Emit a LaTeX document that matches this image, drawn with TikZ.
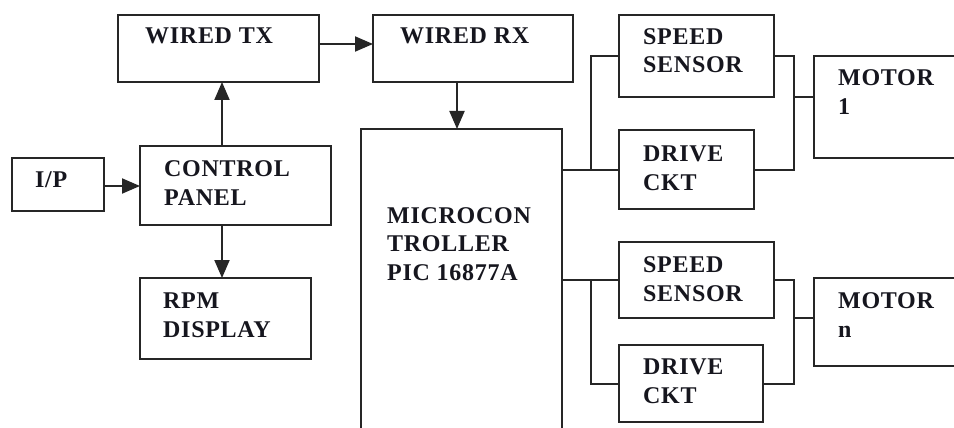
\documentclass[tikz,border=0pt]{standalone}
\usepackage{fontspec}
\setmainfont{Liberation Serif}[LetterSpace=3]
\usepackage{tikz}
\usetikzlibrary{arrows.meta,calc}
\definecolor{bdInk}{HTML}{16161E}
\definecolor{bdLine}{HTML}{262626}
\tikzset{
  bd diagram/.style={x=1pt, y=-1pt, line join=miter},
  bd box/.style={draw=bdLine, fill=white, line width=2pt, anchor=north west,
    inner sep=0pt, outer sep=0pt},
  bd arrow/.style={-{Triangle[length=18pt,width=15pt]}, draw=bdLine, line width=2pt},
  bd wire/.style={draw=bdLine, line width=2pt},
  bd label/.style={font=\bfseries\fontsize{24}{28.5}\selectfont, text=bdInk,
    align=left, anchor=base west, inner sep=0pt}
}

\begin{document}
\begin{tikzpicture}[bd diagram]
\useasboundingbox (0,0) rectangle (954,428);
% blocks
\node[bd box, minimum width=92, minimum height=53] (ip) at (12,158) {};
\node[bd box, minimum width=191, minimum height=79] (cp) at (140,146) {};
\node[bd box, minimum width=171, minimum height=81] (rpm) at (140,278) {};
\node[bd box, minimum width=201, minimum height=67] (tx) at (118,15) {};
\node[bd box, minimum width=200, minimum height=67] (rx) at (373,15) {};
\node[bd box, minimum width=201, minimum height=320] (mcu) at (361,129) {};
\node[bd box, minimum width=155, minimum height=82] (ss1) at (619,15) {};
\node[bd box, minimum width=135, minimum height=79] (dc1) at (619,130) {};
\node[bd box, minimum width=150, minimum height=102] (m1) at (814,56) {};
\node[bd box, minimum width=155, minimum height=76] (ss2) at (619,242) {};
\node[bd box, minimum width=144, minimum height=77] (dc2) at (619,345) {};
\node[bd box, minimum width=150, minimum height=88] (mn) at (814,278) {};
% labels (base = last line)
\node[bd label] (ip text) at (35,187) {I/P};
\node[bd label] (cp text) at (164,205) {CONTROL\\PANEL};
\node[bd label] (rpm text) at (163,337) {RPM\\DISPLAY};
\node[bd label] (tx text) at (145,44) {WIRED TX};
\node[bd label] (rx text) at (400,44) {WIRED RX};
\node[bd label] (mcu text) at (387,280) {MICROCON\\TROLLER\\PIC 16877A};
\node[bd label] (ss1 text) at (643,73) {SPEED\\SENSOR};
\node[bd label] (dc1 text) at (643,190) {DRIVE\\CKT};
\node[bd label] (m1 text) at (838,114) {MOTOR\\1};
\node[bd label] (ss2 text) at (643,301) {SPEED\\SENSOR};
\node[bd label] (dc2 text) at (643,403) {DRIVE\\CKT};
\node[bd label] (mn text) at (838,337) {MOTOR\\n};
% arrows
\draw[bd arrow] ([yshift=-1.5pt]ip.east) -- ([yshift=-1.5pt]ip.east -| cp.west);
\draw[bd arrow] ([xshift=-13.5pt]cp.north) -- ([xshift=-13.5pt]cp.north |- tx.south);
\draw[bd arrow] ([xshift=-13.5pt]cp.south) -- ([xshift=-13.5pt]cp.south |- rpm.north);
\draw[bd arrow] ([yshift=4.5pt]tx.east) -- ([yshift=4.5pt]rx.west);
\draw[bd arrow] ([xshift=-16pt]rx.south) -- ([xshift=-16pt]rx.south |- mcu.north);
% motor 1 branch
\coordinate (j1) at ($(mcu.east |- dc1.west)!0.5!(dc1.west)$);
\coordinate (k1) at ($(ss1.east)!0.5!(ss1.east -| m1.west)$);
\draw[bd wire] (mcu.east |- dc1.west) -- (dc1.west);
\draw[bd wire] (j1) |- (ss1.west);
\draw[bd wire] (ss1.east) -- (k1) |- (dc1.east);
\draw[bd wire] (k1 |- ss1.south) -- (m1.west |- ss1.south);
% motor n branch
\coordinate (j2) at ($(mcu.east |- ss2.west)!0.5!(ss2.west)$);
\coordinate (k2) at ($(ss2.east)!0.5!(ss2.east -| mn.west)$);
\draw[bd wire] (mcu.east |- ss2.west) -- (ss2.west);
\draw[bd wire] (j2) |- (dc2.west);
\draw[bd wire] (ss2.east) -- (k2) |- (dc2.east);
\draw[bd wire] (k2 |- ss2.south) -- (mn.west |- ss2.south);
\end{tikzpicture}
\end{document}
